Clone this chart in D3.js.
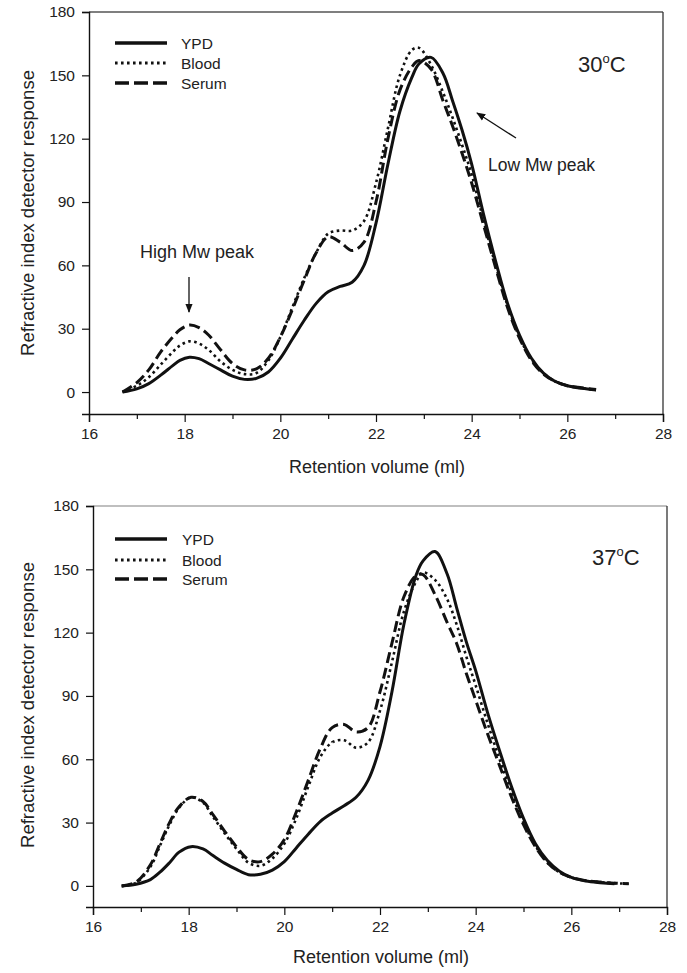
<!DOCTYPE html>
<html>
<head>
<meta charset="utf-8">
<script src="https://cdn.jsdelivr.net/npm/d3@7"></script>
<style>
  body { margin: 0; background: #fff; }
  svg text { font-family: "Liberation Sans", Arial, sans-serif; fill: #222; }
</style>
</head>
<body>
<div id="chart"></div>
<script>
// retention volume grids (ml)
var xTop = [16.7, 17.0, 17.25, 17.5, 17.75, 17.9, 18.1, 18.3, 18.5, 18.75, 19.0, 19.25, 19.5, 19.75, 20.0,
            20.25, 20.5, 20.75, 21.0, 21.25, 21.5, 21.75, 22.0, 22.25, 22.5, 22.75, 22.9, 23.15, 23.4, 23.6,
            23.8, 24.0, 24.25, 24.5, 24.75, 25.0, 25.25, 25.5, 25.75, 26.0, 26.3, 26.6];
var ypdTop   = [0, 1.5, 4, 8, 12.5, 15, 16.5, 15.8, 13.5, 10.5, 7.5, 6, 6.5, 9.5, 16,
                25, 34, 42, 47.5, 50, 52, 60, 80, 108, 133, 149, 155.5, 158.5, 151, 138,
                124, 108, 84, 62, 42, 27, 16, 9, 5, 3, 1.8, 1];
var bloodTop = [0, 3, 7, 13, 19, 22, 24, 23, 20, 14.5, 10.5, 8.5, 9, 15, 26,
                40, 54, 66, 75, 76.5, 76.5, 81, 99, 125, 150, 162, 163, 155, 142, 130,
                117, 103, 81, 60, 41, 26, 15.5, 9, 5, 3, 1.8, 1];
var serumTop = [0, 4.5, 10.5, 19, 26, 29.5, 31.7, 30.5, 27, 20, 13.5, 10.5, 11, 16, 26,
                39, 53, 66, 73.5, 71, 67, 71, 90, 120, 143, 154, 157, 153, 138, 126,
                113, 99, 79, 59, 40, 25.5, 15, 8.5, 5, 3, 2, 1.2];

var xBottom = [16.6, 16.9, 17.2, 17.4, 17.6, 17.8, 18.05, 18.3, 18.5, 18.75, 19.0, 19.25, 19.5, 19.75, 20.0,
               20.25, 20.5, 20.75, 21.0, 21.25, 21.5, 21.75, 22.0, 22.25, 22.5, 22.75, 22.9, 23.15, 23.4, 23.6,
               23.8, 24.0, 24.25, 24.5, 24.75, 25.0, 25.25, 25.5, 25.75, 26.0, 26.3, 26.6, 26.9, 27.2];
var ypdBottom   = [0, 0.8, 3, 6.5, 11, 16, 18.6, 17.5, 14.5, 10.8, 7.8, 5.3, 5.5, 7.5, 11.5,
                   18, 24.5, 30.5, 34.5, 38, 42, 50, 66, 92, 124, 147, 154, 158.4, 148, 132,
                   116, 102, 82, 64, 47, 32, 20, 12, 7, 4, 2.3, 1.5, 1, null];
var bloodBottom = [0, 1.5, 9, 19, 29, 37, 42, 39.5, 33, 25, 17.5, 11, 9.5, 13, 20,
                   32, 47, 61, 68, 69, 65.5, 68, 83, 106, 130, 144, 148.5, 145, 136, 124,
                   109, 95, 77, 60, 44, 30, 19, 11, 6.5, 4, 2.5, 1.8, 1.3, 1];
var serumBottom = [0, 1.8, 10, 20, 30, 37.5, 42, 40, 34, 26, 18.5, 12.5, 11.5, 15, 22,
                   35, 50, 65, 75, 76.5, 73, 75, 92, 115, 137, 147, 147.5, 138, 125, 115,
                   101, 88, 72, 57, 42, 29, 18.5, 11, 6.5, 4, 2.5, 1.8, 1.3, 1];

var seriesNames = ["YPD", "Blood", "Serum"];
var xTicks = [16, 18, 20, 22, 24, 26, 28];
var xMinorTicks = [17, 19, 21, 23, 25, 27];
var yTicks = [0, 30, 60, 90, 120, 150, 180];

var W = 687, H = 973;
var svg = d3.select("#chart").append("svg")
    .attr("width", W)
    .attr("height", H);

// line looks per series
var styles = {
  "YPD":   { width: 3, dash: null },
  "Blood": { width: 2.6, dash: "2.6,3.4" },
  "Serum": { width: 3, dash: "11,5" }
};

var panels = [
  { xs: xTop, ys: [ypdTop, bloodTop, serumTop], label: "30",
    left: 89, right: 663, top: 12, bottom: 414, ymin: -10.4,
    topColor: "#555", titleX: 578, titleY: 72,
    legendY: [43, 63, 83], legendX: 115, textX: 181,
    yLabelY: 213, xLabelY: 473 },
  { xs: xBottom, ys: [ypdBottom, bloodBottom, serumBottom], label: "37",
    left: 93, right: 667, top: 506, bottom: 907, ymin: -10,
    topColor: "#aaa", titleX: 592, titleY: 565,
    legendY: [539, 560, 579], legendX: 115, textX: 182,
    yLabelY: 705, xLabelY: 963 }
];

panels.forEach(function(p, pi) {
  var x = d3.scaleLinear().domain([16, 28]).range([p.left, p.right]);
  var y = d3.scaleLinear().domain([p.ymin, 180]).range([p.bottom, p.top]);
  var g = svg.append("g");

  // frame (top & right)
  g.append("line").attr("x1", p.left).attr("x2", p.right).attr("y1", p.top).attr("y2", p.top)
    .attr("stroke", p.topColor).attr("stroke-width", 1.3);
  g.append("line").attr("x1", p.right).attr("x2", p.right).attr("y1", p.top).attr("y2", p.bottom)
    .attr("stroke", "#333").attr("stroke-width", 1.3);

  // axes
  g.append("g")
    .attr("transform", "translate(" + p.left + ",0)")
    .call(d3.axisLeft(y).tickValues(yTicks).tickSizeOuter(0).tickSize(7).tickPadding(7));
  g.append("g")
    .attr("transform", "translate(0," + p.bottom + ")")
    .call(d3.axisBottom(x).tickValues(xTicks).tickSizeOuter(0).tickSize(8).tickPadding(6));
  g.append("g")
    .attr("transform", "translate(0," + p.bottom + ")")
    .call(d3.axisBottom(x).tickValues(xMinorTicks).tickSizeOuter(0).tickSize(5).tickFormat(""))
    .select(".domain").remove();

  g.selectAll(".domain").attr("stroke", "#111").attr("stroke-width", 1.4);
  g.selectAll(".tick line").attr("stroke", "#111").attr("stroke-width", 1.2);
  g.selectAll(".tick text").style("font-size", "15.5px").attr("fill", "#222");

  // axis titles
  g.append("text")
    .attr("transform", "translate(34," + p.yLabelY + ") rotate(-90)")
    .attr("text-anchor", "middle")
    .style("font-size", "18.5px")
    .text("Refractive index detector response");
  g.append("text")
    .attr("x", (p.left + p.right) / 2 + 1)
    .attr("y", p.xLabelY)
    .attr("text-anchor", "middle")
    .style("font-size", "18px")
    .text("Retention volume (ml)");

  // curves
  var line = d3.line()
    .defined(function(d) { return d[1] != null; })
    .x(function(d) { return x(d[0]); })
    .y(function(d) { return y(d[1]); })
    .curve(d3.curveCatmullRom.alpha(0.5));

  seriesNames.forEach(function(name, si) {
    var data = p.xs.map(function(v, i) { return [v, p.ys[si][i]]; });
    var st = styles[name];
    g.append("path")
      .datum(data)
      .attr("d", line)
      .attr("fill", "none")
      .attr("stroke", "#111")
      .attr("stroke-width", st.width)
      .attr("stroke-dasharray", st.dash)
      .attr("stroke-linejoin", "round");

    // legend
    var ly = p.legendY[si];
    g.append("line")
      .attr("x1", p.legendX).attr("x2", p.legendX + 52)
      .attr("y1", ly).attr("y2", ly)
      .attr("stroke", "#111")
      .attr("stroke-width", st.width + 0.4)
      .attr("stroke-dasharray", name == "Serum" ? "14,5" : st.dash);
    g.append("text")
      .attr("x", p.textX).attr("y", ly + 5.5)
      .style("font-size", "15.5px")
      .text(name);
  });

  // temperature
  var t = g.append("text")
    .attr("x", p.titleX).attr("y", p.titleY)
    .style("font-size", "22px");
  t.append("tspan").text(p.label);
  t.append("tspan").attr("dy", -9).style("font-size", "13px").text("o");
  t.append("tspan").attr("dy", 9).text("C");
});

// annotations on the 30 C panel
var defs = svg.append("defs");
defs.append("marker")
  .attr("id", "arr")
  .attr("viewBox", "0 0 10 10")
  .attr("refX", 9).attr("refY", 5)
  .attr("markerWidth", 7).attr("markerHeight", 7)
  .attr("orient", "auto")
  .append("path").attr("d", "M0,1 L10,5 L0,9 Z").attr("fill", "#111");

svg.append("text")
  .attr("x", 197).attr("y", 258)
  .attr("text-anchor", "middle")
  .style("font-size", "18px")
  .text("High Mw peak");
svg.append("line")
  .attr("x1", 189).attr("y1", 277).attr("x2", 189).attr("y2", 312)
  .attr("stroke", "#111").attr("stroke-width", 1.3)
  .attr("marker-end", "url(#arr)");

svg.append("text")
  .attr("x", 488).attr("y", 171)
  .style("font-size", "17.5px")
  .text("Low Mw peak");
svg.append("line")
  .attr("x1", 516).attr("y1", 138).attr("x2", 477).attr("y2", 113)
  .attr("stroke", "#111").attr("stroke-width", 1.3)
  .attr("marker-end", "url(#arr)");
</script>
</body>
</html>
